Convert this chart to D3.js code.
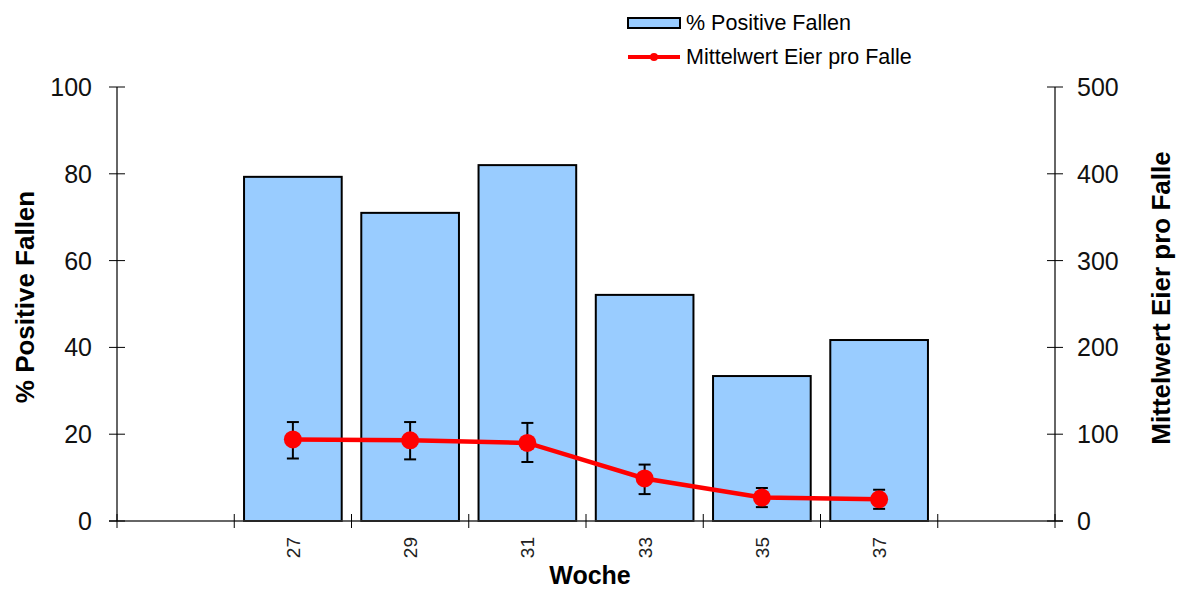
<!DOCTYPE html>
<html><head><meta charset="utf-8">
<script src="https://cdn.jsdelivr.net/npm/d3@7"></script>
<style>body{margin:0;background:#fff}svg{display:block;font-family:"Liberation Sans",Arial,sans-serif}</style>
</head><body>
<svg id="c" width="1179" height="589"></svg>
<script>
const weeks = ["25","27","29","31","33","35","37","39"];
const tickLabels = ["","27","29","31","33","35","37",""];
const dataWeeks = ["27","29","31","33","35","37"];
const pctPositive = [79.3, 71.0, 82.0, 52.1, 33.4, 41.7];
const meanEggs = [94, 93, 90, 49, 27, 25];
const errLow = [72, 71, 68, 31, 16, 14];
const errHigh = [114, 114, 113, 65, 38, 36];
const leftTicks = [0,20,40,60,80,100];
const rightTicks = [0,100,200,300,400,500];

const svg = d3.select("#c");
const L = 117, R = 1055, T = 87, B = 521;
const x = d3.scaleBand().domain(weeks).range([L, R]).paddingInner(0.167).paddingOuter(0.0835);
const xb = d3.scaleBand().domain(weeks).range([L, R]);
const yL = d3.scaleLinear().domain([0,100]).range([B, T]);
const yR = d3.scaleLinear().domain([0,500]).range([B, T]);

// bars
svg.append("g").selectAll("rect").data(dataWeeks).join("rect")
  .attr("x", d => x(d)).attr("width", x.bandwidth())
  .attr("y", (d,i) => yL(pctPositive[i])).attr("height", (d,i) => B - yL(pctPositive[i]))
  .attr("fill", "#99ccff").attr("stroke", "#000").attr("stroke-width", 2);

// axes
const ink = "#000";
svg.append("line").attr("x1", L).attr("x2", L).attr("y1", T).attr("y2", B).attr("stroke", "#333").attr("stroke-width", 1.5);
svg.append("line").attr("x1", R).attr("x2", R).attr("y1", T).attr("y2", B).attr("stroke", "#333").attr("stroke-width", 1.5);
svg.append("line").attr("x1", L-8).attr("x2", R+8).attr("y1", B).attr("y2", B).attr("stroke", "#333").attr("stroke-width", 1.5);

const gl = svg.append("g");
leftTicks.forEach(t => {
  gl.append("line").attr("x1", L-8).attr("x2", L+8).attr("y1", yL(t)).attr("y2", yL(t)).attr("stroke", ink);
  gl.append("text").attr("x", L-25).attr("y", yL(t)).attr("dy", "0.36em").attr("text-anchor", "end")
    .attr("font-size", 25).attr("fill", "#111").text(t);
});
const gr = svg.append("g");
rightTicks.forEach(t => {
  gr.append("line").attr("x1", R-8).attr("x2", R+8).attr("y1", yR(t)).attr("y2", yR(t)).attr("stroke", ink);
  gr.append("text").attr("x", R+22).attr("y", yR(t)).attr("dy", "0.36em").attr("text-anchor", "start")
    .attr("font-size", 25).attr("fill", "#111").text(t);
});
// x ticks at band boundaries
const bounds = weeks.map(w => xb(w)).concat([R]);
svg.append("g").selectAll("line").data(bounds).join("line")
  .attr("x1", d => d).attr("x2", d => d).attr("y1", B-7).attr("y2", B+7).attr("stroke", ink);
svg.append("g").selectAll("text").data(weeks).join("text")
  .attr("transform", d => `translate(${xb(d)+xb.bandwidth()/2 + 7},${B+16}) rotate(-90)`)
  .attr("text-anchor", "end").attr("font-size", 19).attr("fill", "#222")
  .text((d,i) => tickLabels[i]);

// titles
svg.append("text").attr("x", 590).attr("y", 584).attr("text-anchor", "middle")
  .attr("font-size", 25).attr("font-weight", "bold").text("Woche");
svg.append("text").attr("transform", `translate(34,${(T+B)/2 - 7}) rotate(-90)`).attr("text-anchor", "middle")
  .attr("font-size", 26).attr("font-weight", "bold").text("% Positive Fallen");
svg.append("text").attr("transform", `translate(1170,${(T+B)/2 - 6}) rotate(-90)`).attr("text-anchor", "middle")
  .attr("font-size", 26).attr("font-weight", "bold").text("Mittelwert Eier pro Falle");

// error bars
const cx = d => xb(d) + xb.bandwidth()/2;
const ge = svg.append("g").attr("stroke", "#000").attr("stroke-width", 2);
dataWeeks.forEach((d,i) => {
  ge.append("line").attr("x1", cx(d)).attr("x2", cx(d)).attr("y1", yR(errLow[i])).attr("y2", yR(errHigh[i]));
  ge.append("line").attr("x1", cx(d)-6).attr("x2", cx(d)+6).attr("y1", yR(errLow[i])).attr("y2", yR(errLow[i]));
  ge.append("line").attr("x1", cx(d)-6).attr("x2", cx(d)+6).attr("y1", yR(errHigh[i])).attr("y2", yR(errHigh[i]));
});
// line
const line = d3.line().x((d,i) => cx(dataWeeks[i])).y(d => yR(d));
svg.append("path").datum(meanEggs).attr("d", line).attr("fill", "none").attr("stroke", "#ff0000").attr("stroke-width", 4.5);
svg.append("g").selectAll("circle").data(meanEggs).join("circle")
  .attr("cx", (d,i) => cx(dataWeeks[i])).attr("cy", d => yR(d)).attr("r", 9).attr("fill", "#ff0000");

// legend
const lg = svg.append("g");
lg.append("rect").attr("x", 628).attr("y", 18).attr("width", 52).attr("height", 10)
  .attr("fill", "#99ccff").attr("stroke", "#000").attr("stroke-width", 2);
lg.append("text").attr("x", 686).attr("y", 30).attr("font-size", 21.5).text("% Positive Fallen");
lg.append("line").attr("x1", 628).attr("x2", 680).attr("y1", 57).attr("y2", 57).attr("stroke", "#ff0000").attr("stroke-width", 4);
lg.append("circle").attr("cx", 654).attr("cy", 57).attr("r", 4).attr("fill", "#ff0000");
lg.append("text").attr("x", 686).attr("y", 64).attr("font-size", 21.5).text("Mittelwert Eier pro Falle");
</script>
</body></html>
